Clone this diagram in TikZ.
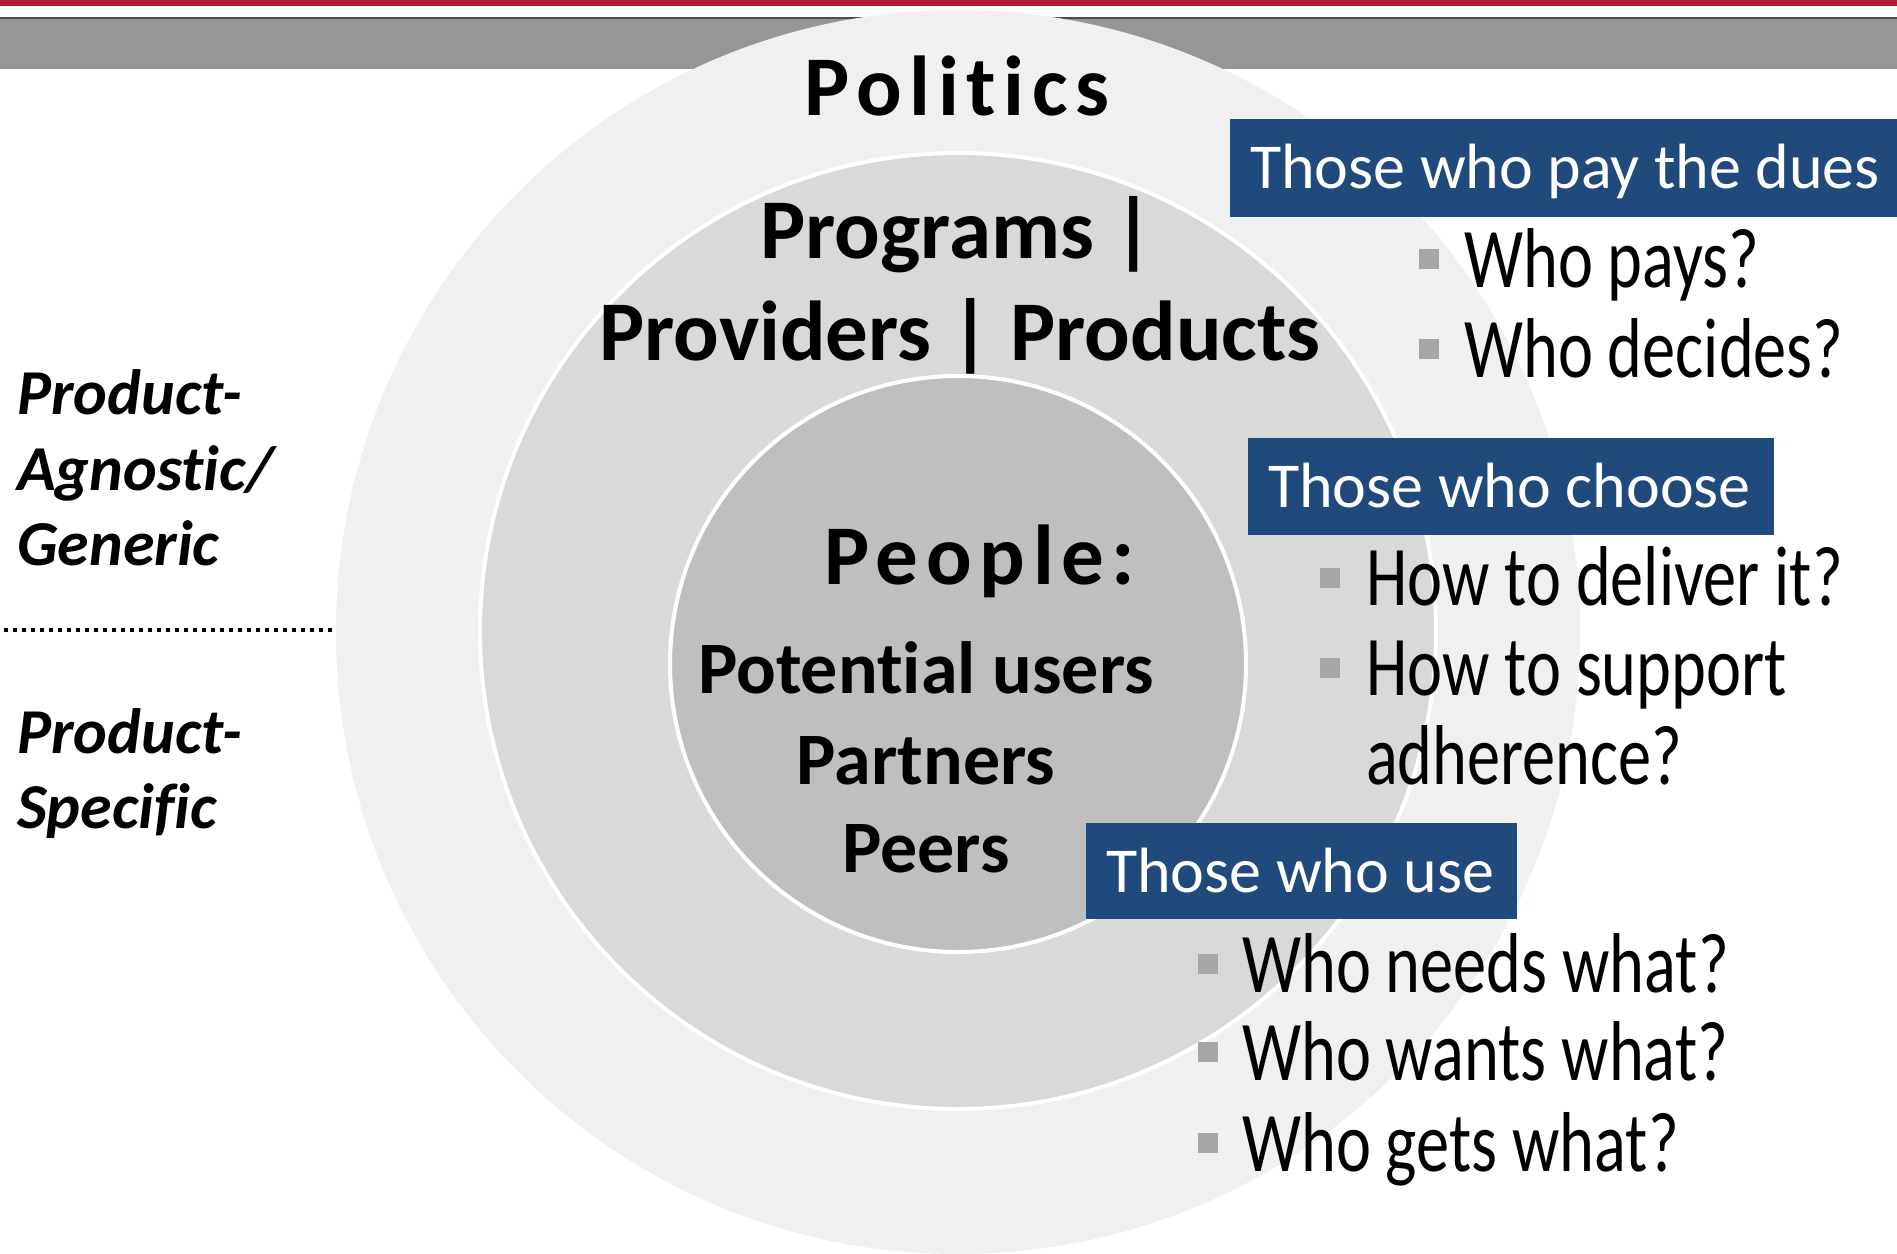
\documentclass[tikz,border=0pt]{standalone}
\usepackage{fontspec}
\setmainfont{Carlito}[Ligatures={NoCommon}]
\newfontfamily\condfont[FakeStretch=0.78,Ligatures={NoCommon}]{Carlito}
\definecolor{topred}{RGB}{176,24,56}
\definecolor{bargray}{RGB}{150,150,150}
\definecolor{ring1}{RGB}{240,240,240}
\definecolor{ring2}{RGB}{217,217,217}
\definecolor{ring3}{RGB}{191,191,191}
\definecolor{boxblue}{RGB}{33,74,124}
\definecolor{bulletgray}{RGB}{166,166,166}
\tikzset{
  ring/.style={circle, inner sep=0pt, outer sep=0pt, minimum size=#1},
  bigbold/.style={inner sep=0pt, anchor=base, font=\fontsize{85}{100}\selectfont\bfseries},
  peoplefont/.style={inner sep=0pt, anchor=base, font=\fontsize{74}{86}\selectfont\bfseries},
  sidelabel/.style={inner sep=0pt, anchor=base west, font=\fontsize{64}{76}\selectfont\bfseries\itshape},
  bluebox/.style={fill=boxblue, inner sep=0pt, outer sep=0pt, anchor=north west},
  boxtext/.style={inner sep=0pt, anchor=base west, text=white, font=\fontsize{64}{76}\selectfont},
  qtext/.style={inner sep=0pt, anchor=base west, font=\fontsize{85}{100}\selectfont\condfont},
  bulletsq/.style={fill=bulletgray, inner sep=0pt, outer sep=0pt, minimum size=20pt},
}
\begin{document}
\begin{tikzpicture}[x=1pt,y=-1pt]
\useasboundingbox (0,0) rectangle (1897,1253);
% top bars
\fill[topred] (0,0) rectangle (1897,6);
\fill[bargray] (0,18) rectangle (1897,69);
\fill[black!70] (0,17) rectangle (1897,19);
% rings
\node[ring=1244pt, fill=ring1] (outer) at (958,632) {};
\node[ring=956pt, fill=ring2, draw=white, line width=4pt] (middle) at (958,631) {};
\node[ring=576pt, fill=ring3, draw=white, line width=4pt] (inner) at (958,664) {};
% ring texts
\node[bigbold] (politics) at (957,115) {\addfontfeature{LetterSpace=9}Politics};
\node[bigbold] (programs) at (957,258) {Programs |};
\node[bigbold] (providers) at (960,360) {Providers | Products};
\node[bigbold] (people) at (980,584) {\addfontfeature{LetterSpace=9}People:};
\node[peoplefont] (potential) at (926,693) {Potential users};
\node[peoplefont] (partners) at (926,784) {Partners};
\node[peoplefont] (peers) at (926,872) {Peers};
% side labels
\node[sidelabel] (pa1) at (17,414) {Product-};
\node[sidelabel] (pa2) at (17,490) {Agnostic/};
\node[sidelabel] (pa3) at (17,565) {Generic};
\node[sidelabel] (ps1) at (17,753) {Product-};
\node[sidelabel] (ps2) at (17,828) {Specific};
\coordinate (dl) at (4,630);
\draw[line width=4pt, dash pattern=on 4pt off 5pt] (dl) -- (outer.west |- dl);
% box 1
\node[bluebox, minimum width=667pt, minimum height=98pt] (b1) at (1230,119) {};
\node[boxtext] (b1t) at (1250,188) {Those who pay the dues};
\node[bulletsq] (q1b) at (1429,259) {};
\node[qtext] (q1) at (1464,287) {Who pays?};
\node[bulletsq] (q2b) at (1429,349) {};
\node[qtext] (q2) at (1464,377) {Who decides?};
% box 2
\node[bluebox, minimum width=526pt, minimum height=97pt] (b2) at (1248,438) {};
\node[boxtext] (b2t) at (1268,507) {Those who choose};
\node[bulletsq] (q3b) at (1330,578) {};
\node[qtext] (q3) at (1366,605) {How to deliver it?};
\node[bulletsq] (q4b) at (1330,668) {};
\node[qtext] (q4) at (1366,695) {How to support};
\node[qtext] (q5) at (1366,784) {adherence?};
% box 3
\node[bluebox, minimum width=431pt, minimum height=96pt] (b3) at (1086,823) {};
\node[boxtext] (b3t) at (1106,892) {Those who use};
\node[bulletsq] (q6b) at (1208,964) {};
\node[qtext] (q6) at (1242,992) {Who needs what?};
\node[bulletsq] (q7b) at (1208,1052) {};
\node[qtext] (q7) at (1242,1080) {Who wants what?};
\node[bulletsq] (q8b) at (1208,1143) {};
\node[qtext] (q8) at (1242,1171) {Who gets what?};
\end{tikzpicture}
\end{document}
